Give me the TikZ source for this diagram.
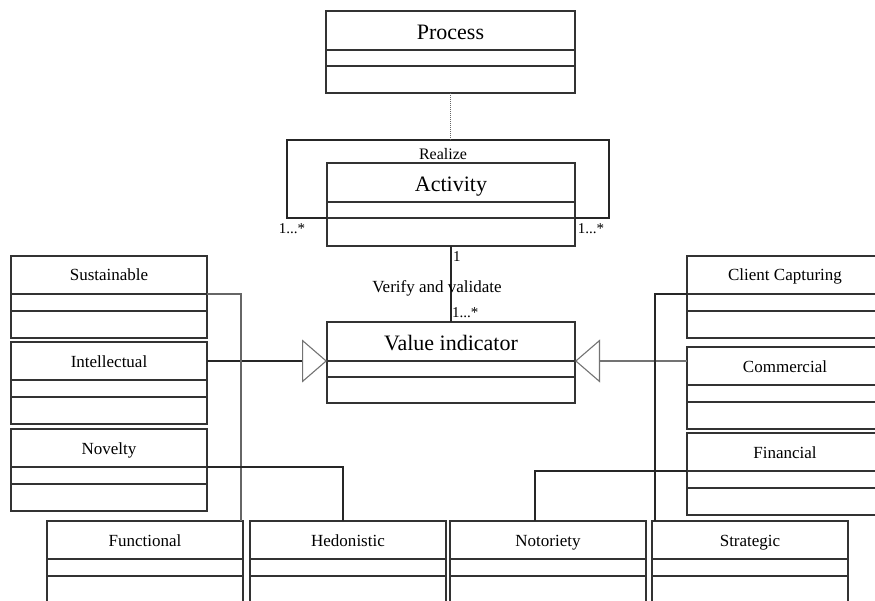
\documentclass[tikz,border=0pt]{standalone}
\usepackage{fontspec}
\setmainfont{Liberation Serif}
\usetikzlibrary{positioning,arrows.meta}

\tikzset{
    umlname/.style={rectangle, draw=black!80, line width=1.1pt, outer sep=0pt, inner sep=0pt,
        anchor=north west, minimum width=196pt, minimum height=38pt, text height=12pt, text depth=0pt,
        font=\fontsize{17}{17}\selectfont},
    umlpart/.style={rectangle, draw=black!80, line width=1.1pt, outer sep=0pt, inner sep=0pt,
        minimum width=196pt},
    bigname/.style={umlname, minimum width=248pt, minimum height=39pt, text height=19pt, text depth=0pt,
        font=\fontsize{22}{22}\selectfont},
    link/.style={line width=1.1pt, draw=black!85},
    gen/.style={link, -{Triangle[open, length=25pt, width=43pt, color=black!55]}},
    mult/.style={font=\fontsize{15}{15}\selectfont, inner sep=1pt},
}

\begin{document}
\begin{tikzpicture}[x=1pt, y=-1pt]
    \useasboundingbox (0,0) rectangle (875,601);

    % Central classes
    \node[bigname, minimum width=249pt] (proc) at (326,11) {Process};
    \node[umlpart, minimum width=249pt, minimum height=16pt, below=0pt of proc] (proc-a) {};
    \node[umlpart, minimum width=249pt, minimum height=27pt, below=0pt of proc-a] (proc-o) {};

    \node[bigname] (act) at (327,163) {Activity};
    \node[umlpart, minimum width=248pt, minimum height=16pt, below=0pt of act] (act-a) {};
    \node[umlpart, minimum width=248pt, minimum height=28pt, below=0pt of act-a] (act-o) {};

    \node[bigname] (val) at (327,322) {Value indicator};
    \node[umlpart, minimum width=248pt, minimum height=16pt, below=0pt of val] (val-a) {};
    \node[umlpart, minimum width=248pt, minimum height=26pt, below=0pt of val-a] (val-o) {};

    % Left classes
    \foreach \nm/\txt/\y in {sus/Sustainable/256, int/Intellectual/342, nov/Novelty/429} {
        \node[umlname] (\nm) at (11,\y) {\txt};
        \node[umlpart, minimum height=17pt, below=0pt of \nm] (\nm-a) {};
        \node[umlpart, minimum height=27pt, below=0pt of \nm-a] (\nm-o) {};
    }

    % Right classes
    \foreach \nm/\txt/\y in {cli/Client Capturing/256, com/Commercial/347, fin/Financial/433} {
        \node[umlname] (\nm) at (687,\y) {\txt};
        \node[umlpart, minimum height=17pt, below=0pt of \nm] (\nm-a) {};
        \node[umlpart, minimum height=27pt, below=0pt of \nm-a] (\nm-o) {};
    }

    % Bottom classes
    \foreach \nm/\txt/\x in {fun/Functional/47, hed/Hedonistic/250, not/Notoriety/450, str/Strategic/652} {
        \node[umlname] (\nm) at (\x,521) {\txt};
        \node[umlpart, minimum height=17pt, below=0pt of \nm] (\nm-a) {};
        \node[umlpart, minimum height=40pt, below=0pt of \nm-a] (\nm-o) {};
    }

    % Realize loop
    \coordinate (loopl) at (287,140);
    \coordinate (loopr) at (609,140);
    \draw[link] (act-o.north west) -| (loopl) -- (loopr) |- (act-o.north east);
    \node[font=\fontsize{16}{16}\selectfont] (realize) at (443,154) {Realize};
    \node[mult] (lmult) at (292,229) {1...*};
    \node[mult] (rmult) at (591,229) {1...*};
    \draw[densely dotted, line width=1pt, black!60] (proc-o.south) -- (proc-o.south |- loopl);

    % Verify and validate
    \draw[link] (act-o.south) -- (val.north);
    \node[mult, anchor=west] (one) at (452,257) {1};
    \node[font=\fontsize{17}{17}\selectfont] (verify) at (437,288) {Verify and validate};
    \node[mult, anchor=west] (many) at (451,313) {1...*};

    % Generalizations
    \draw[gen] (int.east) -- (val-a.north west);
    \draw[gen, draw=black!55] (val-a.north east -| com.west) -- (val-a.north east);

    % Other links
    \draw[link, draw=black!60] (sus-a.north east) -| ([xshift=-2pt]fun.north east);
    \draw[link] (nov-a.north east) -| ([xshift=-5pt]hed.north);
    \draw[link] (cli-a.north west) -| ([xshift=3pt]str.north west);
    \draw[link] (fin-a.north west) -| ([xshift=-13pt]not.north);
\end{tikzpicture}
\end{document}
